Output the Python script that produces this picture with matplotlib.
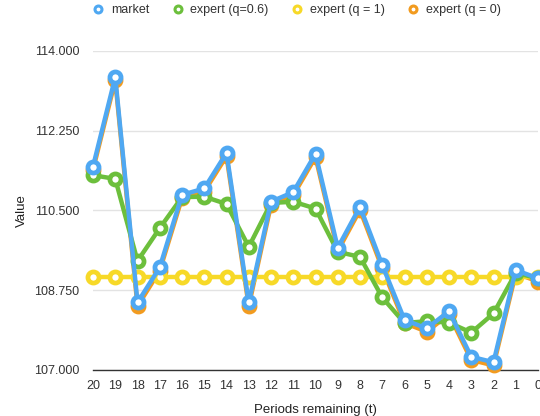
import matplotlib
matplotlib.use("Agg")
import matplotlib.pyplot as plt
from matplotlib.lines import Line2D
from matplotlib.ticker import FormatStrFormatter

plt.rcParams['font.family'] = ['Liberation Sans', 'DejaVu Sans']

periods = [20, 19, 18, 17, 16, 15, 14, 13, 12, 11, 10, 9, 8, 7, 6, 5, 4, 3, 2, 1, 0]
market = [111.46, 113.42, 108.48, 109.25, 110.84, 110.98, 111.76, 108.48, 110.69, 110.90,
          111.74, 109.68, 110.58, 109.30, 108.10, 107.91, 108.29, 107.29, 107.17, 109.19, 109.01]
expert_06 = [111.27, 111.19, 109.39, 110.11, 110.79, 110.80, 110.64, 109.70, 110.66, 110.69,
             110.54, 109.59, 109.48, 108.59, 108.03, 108.07, 108.04, 107.82, 108.24, 109.13, 109.01]
expert_1 = [109.03, 109.03, 109.03, 109.03, 109.03, 109.03, 109.03, 109.03, 109.03, 109.03,
            109.03, 109.03, 109.03, 109.03, 109.03, 109.03, 109.03, 109.03, 109.03, 109.03, 109.03]
expert_0 = [111.39, 113.35, 108.40, 109.18, 110.77, 110.91, 111.69, 108.40, 110.62, 110.83,
            111.67, 109.61, 110.51, 109.23, 108.03, 107.84, 108.22, 107.22, 107.10, 109.12, 108.94]
yticks = [107.0, 108.75, 110.5, 112.25, 114.0]

labels = ["market", "expert (q=0.6)", "expert (q = 1)", "expert (q = 0)"]
colors = ["#4fa8f2", "#6cbf3c", "#f7d928", "#f29b1f"]
series = [market, expert_06, expert_1, expert_0]

fig = plt.figure(figsize=(5.4, 4.16), dpi=100)
ax = fig.add_axes([93/540, 46/416, 445/540, (370-50.7)/416])

for i in [3, 2, 1, 0]:
    ax.plot(periods, series[i], color=colors[i], lw=3.2, marker='o', ms=8,
            mew=3.4, mec=colors[i], mfc='white', clip_on=False, zorder=3 + (3 - i))

ax.set_xlim(20, 0)
ax.set_ylim(107, 114)
ax.set_xticks(periods)
ax.set_xticklabels([str(p) for p in periods])
ax.set_yticks(yticks)
ax.yaxis.set_major_formatter(FormatStrFormatter('%.3f'))
ax.grid(axis='y', color='#e3e3e3', lw=1)
ax.set_axisbelow(True)
for s in ['top', 'right', 'left']:
    ax.spines[s].set_visible(False)
ax.spines['bottom'].set_color('#333333')
ax.spines['bottom'].set_linewidth(1)
ax.spines['bottom'].set_zorder(2)
ax.tick_params(axis='x', length=0, pad=7, labelsize=9, labelcolor='#333333')
ax.tick_params(axis='y', length=0, pad=10, labelsize=9, labelcolor='#333333')
ax.set_xlabel("Periods remaining (t)", fontsize=9.5, color='#222222', labelpad=9)
ax.set_ylabel("Value", fontsize=9.5, color='#222222', labelpad=4)

handles = [Line2D([], [], ls='none', marker='o', ms=5, mew=2.2, mec=c, mfc='white') for c in colors]
fig.legend(handles, labels, loc='center', bbox_to_anchor=(297/540, 1 - 10/416), ncol=4,
           frameon=False, fontsize=9, handlelength=0.8, handletextpad=0.6,
           columnspacing=1.9, labelcolor='#333333')

fig.savefig("out.png", dpi=100)
